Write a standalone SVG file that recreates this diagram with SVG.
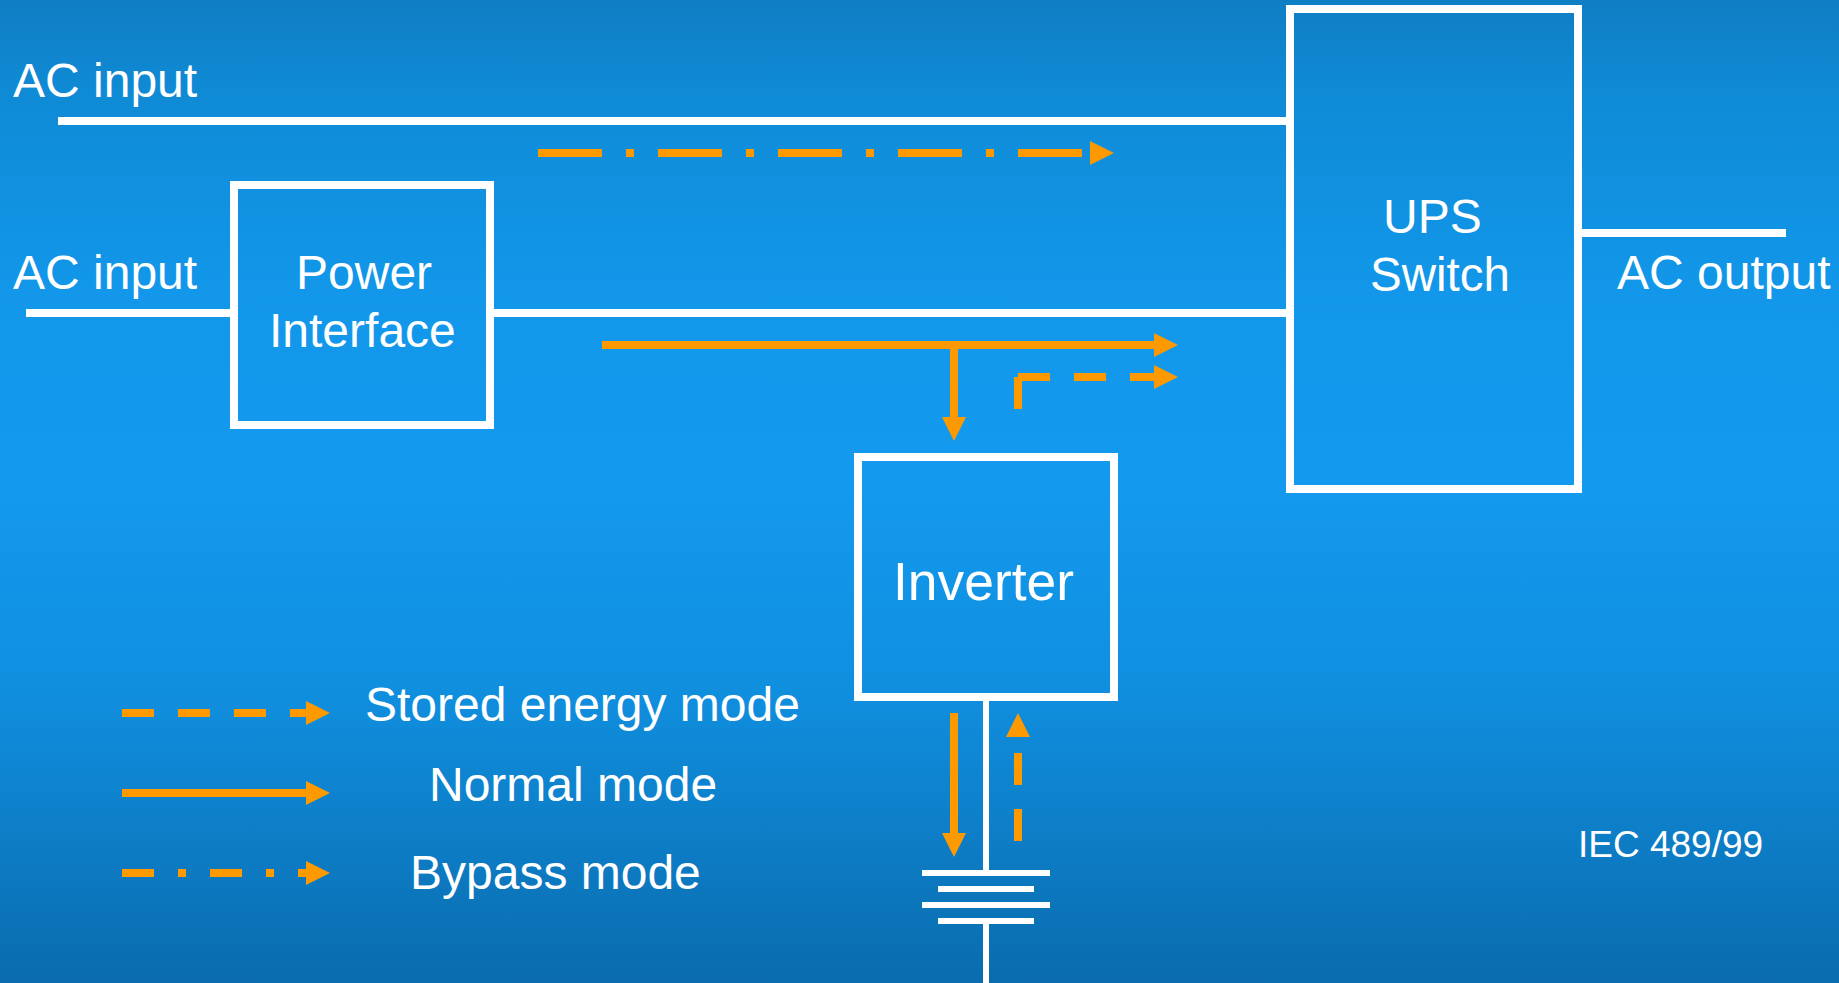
<svg xmlns="http://www.w3.org/2000/svg" width="1839" height="983" viewBox="0 0 1839 983">
<style>
.w{stroke:#fff;stroke-width:8;fill:none}
.b{stroke:#fff;stroke-width:6;fill:none}
.p{stroke:#f90;stroke-width:8;fill:none}
.d{stroke-dasharray:32 24}
.dd{stroke-dasharray:32 24 8 24}
.l{stroke-dasharray:64 24 8 24}
.h{fill:#f90}
text{font-family:"Liberation Sans",Arial,sans-serif;font-size:48px;fill:#fff}
</style>
<defs>
<linearGradient id="bg" x1="0" y1="0" x2="0" y2="1">
<stop offset="0" stop-color="#0f7ec4"/>
<stop offset="0.1" stop-color="#0f8bd6"/>
<stop offset="0.3" stop-color="#1297ea"/>
<stop offset="0.5" stop-color="#1399ee"/>
<stop offset="0.7" stop-color="#108fdf"/>
<stop offset="1" stop-color="#0a6cae"/>
</linearGradient>
<polygon id="hr" class="h" points="0,-12 24,0 0,12"/>
</defs>
<rect width="1839" height="983" fill="url(#bg)"/>
<g id="connectors">
<path class="w" d="M58 121H1286M26 313H230M494 313H1286M1582 233H1786"/>
<path class="b" d="M986 701V870M986 924V983"/>
<path class="p l" d="M538 153H1082"/>
<use href="#hr" x="1090" y="153"/>
<path class="p" d="M602 345H1154"/>
<use href="#hr" x="1154" y="345"/>
<path class="p" d="M954 349V417"/>
<polygon class="h" points="942,417 966,417 954,441"/>
<path class="p" d="M1018 377V409"/>
<path class="p d" d="M1018 377H1154"/>
<use href="#hr" x="1154" y="377"/>
<path class="p" d="M954 713V833"/>
<polygon class="h" points="942,833 966,833 954,857"/>
<path class="p d" d="M1018 841V753"/>
<polygon class="h" points="1006,737 1030,737 1018,713"/>
</g>
<g id="legend">
<path class="p d" d="M122 713H306"/><use href="#hr" x="306" y="713"/>
<path class="p" d="M122 793H306"/><use href="#hr" x="306" y="793"/>
<path class="p dd" d="M122 873H306"/><use href="#hr" x="306" y="873"/>
<text x="365" y="721">Stored energy mode</text>
<text x="429" y="801">Normal mode</text>
<text x="410" y="889">Bypass mode</text>
</g>
<g id="power-interface">
<rect class="w" x="234" y="185" width="256" height="240"/>
<text x="296" y="289">Power</text>
<text x="269" y="347">Interface</text>
</g>
<g id="ups-switch">
<rect class="w" x="1290" y="9" width="288" height="480"/>
<text x="1383" y="233">UPS</text>
<text x="1370" y="291" textLength="140" lengthAdjust="spacingAndGlyphs">Switch</text>
</g>
<g id="inverter">
<rect class="w" x="858" y="457" width="256" height="240"/>
<text x="893" y="600" style="font-size:54px" textLength="181" lengthAdjust="spacingAndGlyphs">Inverter</text>
</g>
<g id="battery">
<path class="b" d="M922 873H1050M938 889H1034M922 905H1050M938 921H1034"/>
</g>
<g id="labels">
<text x="13" y="97">AC input</text>
<text x="13" y="289">AC input</text>
<text x="1617" y="289">AC output</text>
<text x="1578" y="857" style="font-size:37px">IEC 489/99</text>
</g>
</svg>
